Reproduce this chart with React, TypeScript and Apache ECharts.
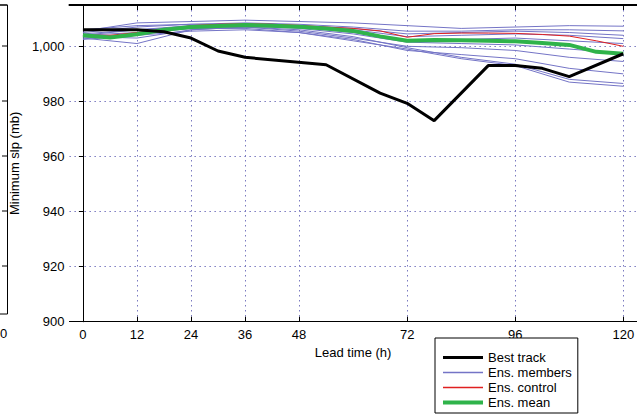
import React, { useEffect, useRef } from 'react';
import * as echarts from 'echarts';

// Tick positions / labels
const xTicks = [0, 12, 24, 36, 48, 72, 96, 120];
const yTicks = [900, 920, 940, 960, 980, 1000];

// Best track (observed)
const trackLead = [0, 12, 18, 24, 30, 36, 54, 66, 72, 78, 90, 96, 102, 108, 120];
const bestTrack = [1006, 1006, 1005.3, 1003, 998.3, 996, 993.3, 983, 979.3, 973, 993, 993, 992, 989, 997.3];

// Ensemble mean / control (6-hourly)
const lead6h = [0, 6, 12, 18, 24, 30, 36, 42, 48, 54, 60, 66, 72, 78, 84, 90, 96, 102, 108, 114, 120];
const ensMean = [1004, 1003.2, 1004.4, 1006, 1007, 1007.4, 1007.7, 1007.5, 1007.1, 1006.5, 1005.6, 1003.6, 1002, 1002.3, 1002.2, 1002, 1001.8, 1001.2, 1000.5, 998, 997.3];
const ensControl = [1004, 1004, 1005, 1006, 1007.5, 1008, 1008.2, 1008, 1007.6, 1007, 1006.5, 1005.6, 1003.3, 1004.6, 1004.8, 1004.8, 1004.7, 1004.3, 1003.7, 1002, 1000];

// Ensemble members (12-hourly)
const lead12h = [0, 12, 24, 36, 48, 60, 72, 84, 96, 108, 120];
const member01 = [1005.5, 1008.5, 1009, 1009.5, 1009, 1008.5, 1007.5, 1006.5, 1007, 1007.5, 1007.3];
const member02 = [1006, 1007.5, 1008, 1008.5, 1008, 1007, 1005.5, 1005.5, 1006, 1006, 1005.6];
const member03 = [1004.5, 1006, 1007.5, 1008, 1007.5, 1006, 1003.5, 1004, 1004.5, 1004, 1002.8];
const member04 = [1003, 1001, 1006, 1007, 1007, 1005, 1002, 1002.5, 1003, 1002, 1001];
const member05 = [1004, 1005, 1006.5, 1007.5, 1006.5, 1004.5, 1001.5, 1001, 1000.5, 999, 997.5];
const member06 = [1003.5, 1003, 1006, 1007, 1005.5, 1003, 1000, 999.5, 998.5, 996, 994.5];
const member07 = [1002.5, 1004, 1005.5, 1006, 1005, 1002.5, 998.5, 997, 995.5, 992, 990];
const member08 = [1004, 1006, 1007, 1007, 1006, 1003.5, 999.5, 996, 993.5, 988, 986.5];
const member09 = [1003, 1004.5, 1006.5, 1006.5, 1005, 1002, 999, 995.5, 993, 987, 985.5];
const member10 = [1005, 1007, 1008, 1008, 1007.5, 1006.5, 1004.5, 1005, 1005.5, 1005, 1004];
const members = [member01, member02, member03, member04, member05, member06, member07, member08, member09, member10];

const FONT = '"Liberation Sans", Arial, Helvetica, sans-serif';
const MEMBER_COLOR = '#7474c6';
const CONTROL_COLOR = '#e02020';
const MEAN_COLOR = '#2fb34a';
const pair = (xs: number[], ys: number[]) => xs.map((x, i) => [x, ys[i]]);

export default function App() {
  const ref = useRef<HTMLDivElement>(null);
  useEffect(() => {
    if (!ref.current) return;
    const chart = echarts.init(ref.current, undefined, { renderer: 'svg' });
    const gridLine = { show: true, lineStyle: { color: '#7a7ac0', type: [1.5, 3.5] as any, width: 1 } };
    const memberSeries = members.map((m) => ({
      name: 'Ens. members',
      type: 'line',
      xAxisIndex: 0,
      yAxisIndex: 0,
      symbol: 'none',
      data: pair(lead12h, m),
      lineStyle: { color: MEMBER_COLOR, width: 1 },
      itemStyle: { color: MEMBER_COLOR },
      z: 2,
    }));
    chart.setOption({
      animation: false,
      textStyle: { fontFamily: FONT },
      grid: { left: 64, top: 5, right: -3.5, bottom: 97.3, containLabel: false },
      xAxis: [
        {
          type: 'value', position: 'bottom', min: -3, max: 123,
          name: 'Lead time (h)', nameLocation: 'middle', nameGap: 22,
          nameTextStyle: { fontSize: 13, color: '#000', fontFamily: FONT },
          axisLine: { show: true, lineStyle: { color: '#000', width: 1 } },
          axisTick: { show: true, inside: true, length: 5, customValues: xTicks, lineStyle: { color: '#000' } },
          axisLabel: { show: true, customValues: xTicks, fontSize: 13, color: '#000', margin: 6, fontFamily: FONT },
          splitLine: gridLine,
        },
        {
          type: 'value', position: 'top', min: -3, max: 123,
          axisLine: { show: true, lineStyle: { color: '#000', width: 2 } },
          axisTick: { show: true, inside: true, length: 5, customValues: xTicks, lineStyle: { color: '#000' } },
          axisLabel: { show: false },
          splitLine: { show: false },
        },
      ],
      yAxis: [
        {
          type: 'value', position: 'left', min: 900, max: 1015,
          name: 'Minimum slp (mb)', nameLocation: 'middle', nameGap: 40, nameRotate: 90,
          nameTextStyle: { fontSize: 13, color: '#000', fontFamily: FONT },
          axisLine: { show: true, lineStyle: { color: '#22224a', width: 1 } },
          axisTick: { show: true, inside: false, length: 4, customValues: yTicks, lineStyle: { color: '#000' } },
          axisLabel: { show: true, customValues: yTicks, fontSize: 13, color: '#000', margin: 5, fontFamily: FONT },
          splitLine: gridLine,
        },
        {
          type: 'value', position: 'right', min: 900, max: 1015,
          axisLine: { show: true, lineStyle: { color: '#000', width: 1 } },
          axisTick: { show: true, inside: true, length: 4, customValues: yTicks, lineStyle: { color: '#000' } },
          axisLabel: { show: false },
          splitLine: { show: false },
        },
      ],
      legend: {
        data: [
          { name: 'Best track', icon: 'path://M0,0H40V3H0Z', itemStyle: { color: '#000' } },
          { name: 'Ens. members', icon: 'path://M0,0H40V1.6H0Z', itemStyle: { color: MEMBER_COLOR } },
          { name: 'Ens. control', icon: 'path://M0,0H40V1.6H0Z', itemStyle: { color: CONTROL_COLOR } },
          { name: 'Ens. mean', icon: 'path://M0,0H40V4H0Z', itemStyle: { color: MEAN_COLOR } },
        ],
        orient: 'vertical', left: 435, top: 338,
        padding: [13, 6, 4, 8],
        itemWidth: 40, itemHeight: 14, itemGap: 2,
        borderColor: '#000', borderWidth: 1, backgroundColor: '#fff',
        textStyle: { fontSize: 13, color: '#000', fontFamily: FONT },
      },
      graphic: [
        { type: 'line', shape: { x1: 7.5, y1: 5, x2: 7.5, y2: 314 }, style: { stroke: '#000', lineWidth: 1 } },
        { type: 'line', shape: { x1: 0, y1: 5, x2: 7.5, y2: 5 }, style: { stroke: '#000', lineWidth: 1.5 } },
        { type: 'line', shape: { x1: 0, y1: 314, x2: 7.5, y2: 314 }, style: { stroke: '#000', lineWidth: 1 } },
        ...[46, 101, 156, 211, 266].map((y) => ({ type: 'line', shape: { x1: 2, y1: y, x2: 7.5, y2: y }, style: { stroke: '#000', lineWidth: 1 } })),
        { type: 'text', x: 0, y: 333, style: { text: '0', align: 'left', verticalAlign: 'middle', font: '13px ' + FONT, fill: '#000' } },
      ],
      series: [
        ...memberSeries,
        {
          name: 'Ens. control', type: 'line', symbol: 'none', data: pair(lead6h, ensControl),
          lineStyle: { color: CONTROL_COLOR, width: 1 }, itemStyle: { color: CONTROL_COLOR }, z: 3,
        },
        {
          name: 'Ens. mean', type: 'line', symbol: 'none', data: pair(lead6h, ensMean),
          lineStyle: { color: MEAN_COLOR, width: 4 }, itemStyle: { color: MEAN_COLOR }, z: 4,
        },
        {
          name: 'Best track', type: 'line', symbol: 'none', data: pair(trackLead, bestTrack),
          lineStyle: { color: '#000', width: 3 }, itemStyle: { color: '#000' }, z: 5,
        },
      ],
    });
    return () => chart.dispose();
  }, []);
  return <div ref={ref} style={{ position: 'fixed', left: 0, top: 0, width: 637, height: 419, background: '#fff' }} />;
}
